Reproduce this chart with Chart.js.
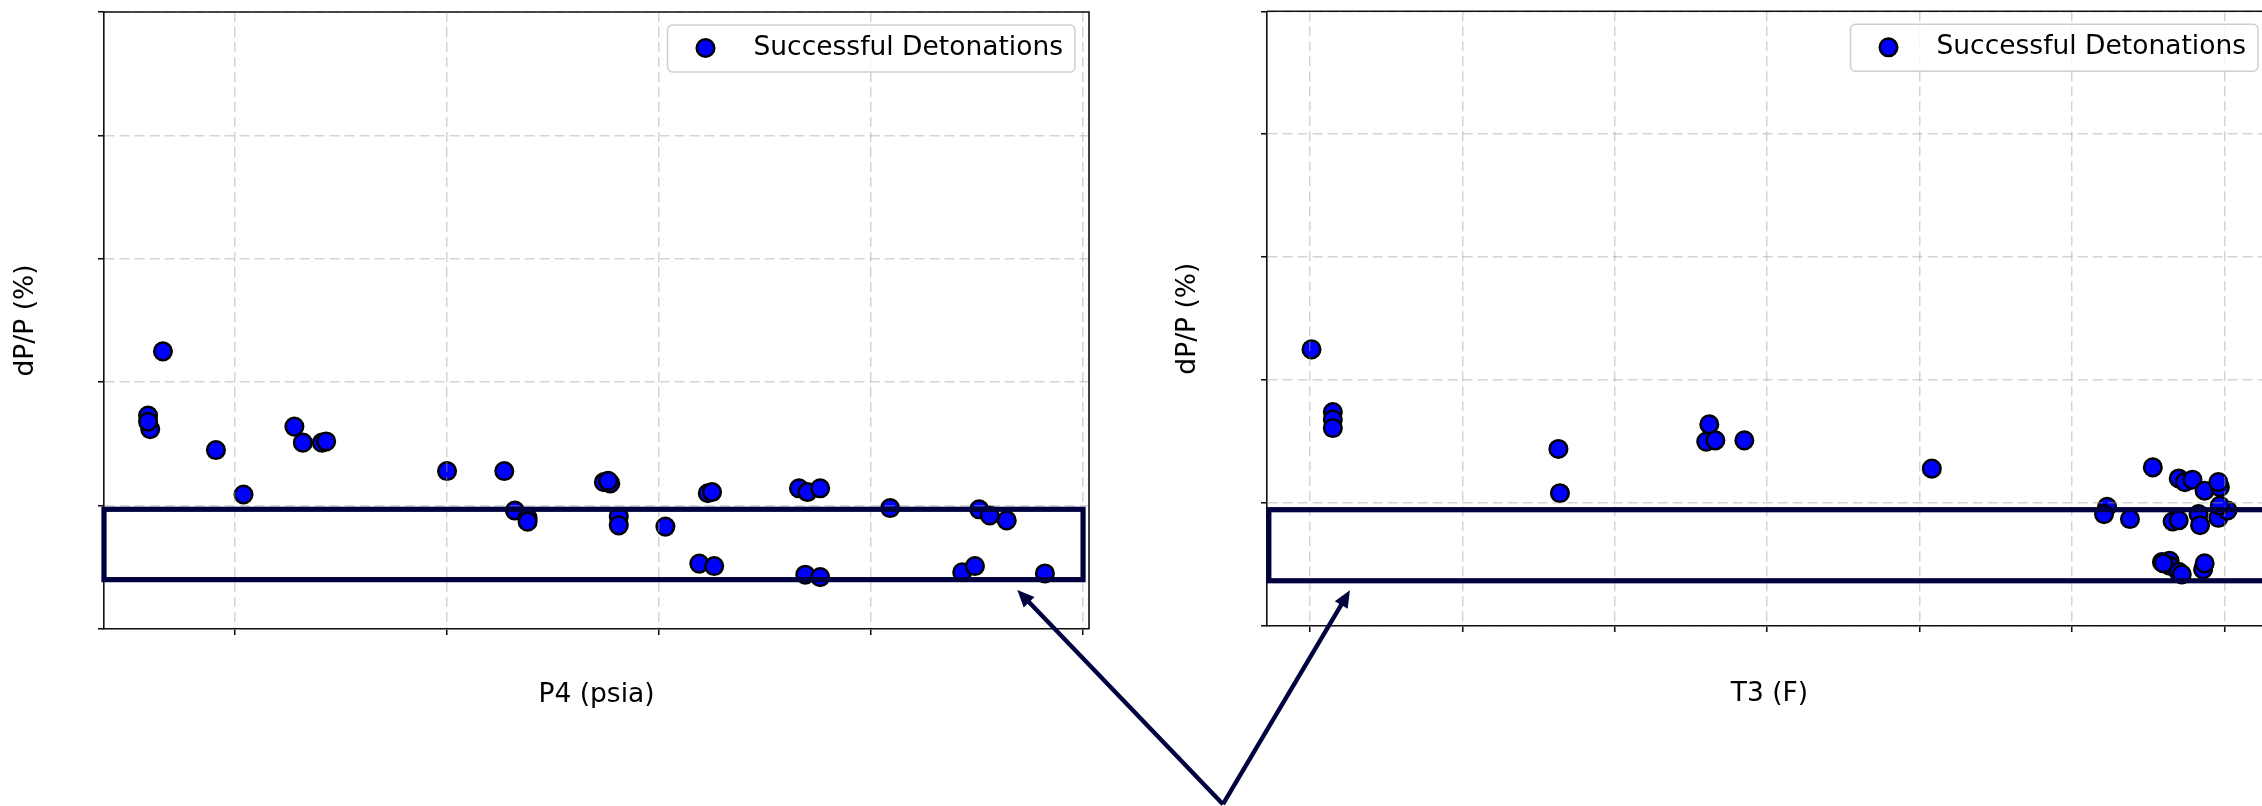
<!DOCTYPE html>
<html>
<head>
<meta charset="utf-8">
<script src="https://cdn.jsdelivr.net/npm/chart.js@4.4.0/dist/chart.umd.min.js"></script>
<style>
html,body{margin:0;padding:0;background:#fff;overflow:hidden;width:2262px;height:806px;}
#wrap{position:relative;width:2262px;height:806px;overflow:hidden;background:#fff;}
#wrap canvas{position:absolute;top:0;}
#cL{left:0;}
#cR{left:1162px;}
#ov{left:0;pointer-events:none;z-index:5;}
</style>
</head>
<body>
<div id="wrap">
  <canvas id="cL" width="1130" height="806"></canvas>
  <canvas id="cR" width="1151" height="806"></canvas>
  <canvas id="ov" width="2262" height="806"></canvas>
</div>
<script>
// ---------------- data (tick labels are hidden in the original; values in tick units) -------------
const SERIES_LABEL = 'Successful Detonations';
const Y_TITLE = 'dP/P (%)';
const P4_TITLE = 'P4 (psia)';
const T3_TITLE = 'T3 (F)';

const p4Values = [-0.34, -0.41, -0.40, -0.41, -0.09, 0.04, 0.28, 0.32, 0.41, 0.43,
                  1.00, 1.27, 1.74, 1.77, 1.76, 2.23, 2.25, 2.66, 2.70, 2.76,
                  3.09, 1.32, 1.38, 1.38, 1.81, 1.81, 2.03, 2.19, 2.26, 2.69,
                  2.76, 3.51, 3.56, 3.64, 3.43, 3.49, 3.82];
const p4DpP    = [2.25, 1.73, 1.62, 1.68, 1.45, 1.09, 1.64, 1.51, 1.51, 1.52,
                  1.28, 1.28, 1.19, 1.18, 1.20, 1.10, 1.11, 1.14, 1.11, 1.14,
                  0.98, 0.96, 0.90, 0.87, 0.91, 0.84, 0.83, 0.53, 0.51, 0.44,
                  0.42, 0.97, 0.92, 0.88, 0.46, 0.51, 0.45];

const t3Values = [0.01, 0.15, 0.15, 0.15, 1.63, 1.64, 2.62, 2.60, 2.66, 2.85,
                  4.08, 5.53, 5.70, 5.74, 5.79, 5.87, 5.97, 5.96, 5.23, 5.21,
                  5.38, 5.66, 5.70, 5.83, 5.84, 5.96, 6.02, 5.97, 5.59, 5.64,
                  5.64, 5.70, 5.72, 5.86, 5.87, 5.60];
const t3DpP    = [2.25, 1.74, 1.68, 1.61, 1.44, 1.08, 1.64, 1.50, 1.51, 1.51,
                  1.28, 1.29, 1.20, 1.17, 1.19, 1.10, 1.13, 1.17, 0.97, 0.91,
                  0.87, 0.85, 0.86, 0.91, 0.82, 0.88, 0.94, 0.98, 0.52, 0.53,
                  0.49, 0.44, 0.42, 0.46, 0.51, 0.51];

const yRange  = [0, 5];
const p4Range = [-0.618, 4.028];
const t3Range = [-0.282, 6.312];

// highlight boxes [x0, x1, y0, y1] and arrow tips [x, y], in data units
const p4Box = [-0.618, 4.0, 0.40, 0.97];
const t3Box = [-0.27, 6.30, 0.368, 0.946];
const p4ArrowTip = [3.69, 0.316];
const t3ArrowTip = [0.262, 0.29];
const arrowTail  = [4.66, -1.42];   // in the P4 chart's data units

// ---------------- styles ----------------
const FONT_FAMILY = '"DejaVu Sans", "Liberation Sans", sans-serif';
const FONT_SIZE = 26.5;
const NAVY = '#01013f';
const GRID_COLOR = 'rgba(160,160,160,0.45)';

const framePlugin = {
  id: 'frame',
  afterDraw(chart, args, opts) {
    const {ctx, chartArea: a, scales: {x, y}} = chart;
    ctx.save();
    // top and right spines
    ctx.strokeStyle = '#111';
    ctx.lineWidth = 1.6;
    ctx.setLineDash([]);
    ctx.beginPath();
    ctx.moveTo(a.left, a.top);
    ctx.lineTo(a.right, a.top);
    ctx.lineTo(a.right, a.bottom);
    ctx.stroke();
    // highlight box
    const b = opts.box;
    const x0 = x.getPixelForValue(b[0]), x1 = x.getPixelForValue(b[1]);
    const y0 = y.getPixelForValue(b[2]), y1 = y.getPixelForValue(b[3]);
    ctx.strokeStyle = NAVY;
    ctx.lineWidth = 5.2;
    ctx.lineJoin = 'miter';
    ctx.strokeRect(x0, y1, x1 - x0, y0 - y1);
    // legend
    const ds = chart.data.datasets[0];
    ctx.font = FONT_SIZE + 'px ' + FONT_FAMILY;
    const tw = ctx.measureText(ds.label).width;
    const h = 47, w = 86 + tw + 12;
    const lx = a.right - 14 - w, ly = a.top + 13;
    ctx.beginPath();
    if (ctx.roundRect) ctx.roundRect(lx, ly, w, h, 5); else ctx.rect(lx, ly, w, h);
    ctx.fillStyle = 'rgba(255,255,255,0.8)';
    ctx.fill();
    ctx.strokeStyle = '#cfcfcf';
    ctx.lineWidth = 1.5;
    ctx.stroke();
    ctx.beginPath();
    ctx.arc(lx + 38, ly + 23, ds.pointRadius, 0, Math.PI * 2);
    ctx.fillStyle = ds.backgroundColor;
    ctx.fill();
    ctx.lineWidth = ds.borderWidth;
    ctx.strokeStyle = ds.borderColor;
    ctx.stroke();
    ctx.fillStyle = '#000';
    ctx.textBaseline = 'alphabetic';
    ctx.textAlign = 'left';
    ctx.fillText(ds.label, lx + 86, ly + 30);
    ctx.restore();
  }
};

function makeChart(id, xs, ys, xRange, xTitle, box, yAxisWidth, topPad, xAxisHeight, xTitlePadBottom) {
  const pts = xs.map((v, i) => ({x: v, y: ys[i]}));
  const gridOpts = {
    display: true,
    drawOnChartArea: true,
    drawTicks: true,
    tickLength: 6,
    tickWidth: 1.6,
    tickColor: '#111',
    tickBorderDash: [],
    color: GRID_COLOR,
    lineWidth: 1.5,
    z: 1
  };
  const borderOpts = {display: true, color: '#111', width: 1.6, dash: [10, 5], z: 2};
  return new Chart(document.getElementById(id), {
    type: 'scatter',
    data: {
      datasets: [{
        label: SERIES_LABEL,
        data: pts,
        backgroundColor: '#0000ff',
        borderColor: '#000000',
        borderWidth: 2.5,
        pointRadius: 8.8,
        pointHoverRadius: 8.8
      }]
    },
    options: {
      responsive: false,
      animation: false,
      events: [],
      layout: {padding: {left: 0, top: topPad, right: 41, bottom: 0}},
      plugins: {
        legend: {display: false},
        tooltip: {enabled: false},
        frame: {box: box}
      },
      scales: {
        x: {
          type: 'linear',
          min: xRange[0], max: xRange[1],
          ticks: {display: false, stepSize: 1, includeBounds: false},
          grid: gridOpts,
          border: borderOpts,
          title: {
            display: true, text: xTitle, color: '#000',
            font: {family: FONT_FAMILY, size: FONT_SIZE},
            padding: {top: 0, bottom: xTitlePadBottom}
          },
          afterFit: s => { s.height = xAxisHeight; }
        },
        y: {
          type: 'linear',
          min: yRange[0], max: yRange[1],
          ticks: {display: false, stepSize: 1, includeBounds: false},
          grid: gridOpts,
          border: borderOpts,
          title: {
            display: true, text: Y_TITLE, color: '#000',
            font: {family: FONT_FAMILY, size: FONT_SIZE},
            padding: {top: 10, bottom: 0}
          },
          afterFit: s => { s.width = yAxisWidth; }
        }
      }
    },
    plugins: [framePlugin]
  });
}

const chartL = makeChart('cL', p4Values, p4DpP, p4Range, P4_TITLE, p4Box, 104, 12, 177, 95);
const chartR = makeChart('cR', t3Values, t3DpP, t3Range, T3_TITLE, t3Box, 105, 9, 180, 96);

function drawArrows() {
  const ctx = document.getElementById('ov').getContext('2d');
  const offL = chartL.canvas.offsetLeft, offR = chartR.canvas.offsetLeft;
  const tail = [offL + chartL.scales.x.getPixelForValue(arrowTail[0]),
                chartL.scales.y.getPixelForValue(arrowTail[1])];
  const tips = [
    [offL + chartL.scales.x.getPixelForValue(p4ArrowTip[0]), chartL.scales.y.getPixelForValue(p4ArrowTip[1])],
    [offR + chartR.scales.x.getPixelForValue(t3ArrowTip[0]), chartR.scales.y.getPixelForValue(t3ArrowTip[1])]
  ];
  ctx.save();
  ctx.strokeStyle = NAVY;
  ctx.fillStyle = NAVY;
  ctx.lineWidth = 4.4;
  ctx.lineCap = 'butt';
  const headLen = 17, headHalf = 7.5;
  tips.forEach(t => {
    const dx = t[0] - tail[0], dy = t[1] - tail[1];
    const len = Math.hypot(dx, dy);
    const ux = dx / len, uy = dy / len;
    const bx = t[0] - ux * headLen, by = t[1] - uy * headLen;
    ctx.beginPath();
    ctx.moveTo(tail[0], tail[1]);
    ctx.lineTo(bx + ux * 2, by + uy * 2);
    ctx.stroke();
    ctx.beginPath();
    ctx.moveTo(t[0], t[1]);
    ctx.lineTo(bx - uy * headHalf, by + ux * headHalf);
    ctx.lineTo(bx + uy * headHalf, by - ux * headHalf);
    ctx.closePath();
    ctx.fill();
  });
  ctx.restore();
}
drawArrows();
</script>
</body>
</html>
